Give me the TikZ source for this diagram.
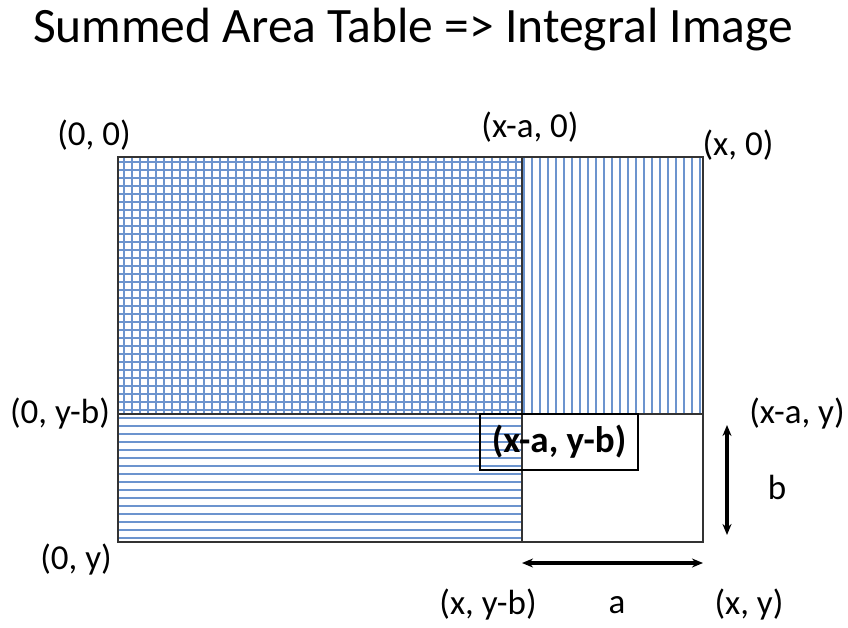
\documentclass[tikz,border=0pt]{standalone}
\usepackage{fontspec}
\setmainfont{Carlito}
\usetikzlibrary{arrows.meta, positioning, calc}
\definecolor{hatchblue}{RGB}{108,148,206}
\tikzset{
    frame/.style={draw=black!80, line width=1.6pt},
    hatch/.style={draw=hatchblue, line width=2pt},
    corner/.style={font=\fontsize{35}{40}\selectfont, inner sep=0pt},
    dim/.style={draw, <->, >={Stealth[length=11pt,width=9pt]}, line width=3.6pt}
}
\begin{document}
\begin{tikzpicture}[x=1pt, y=-1pt]
        \useasboundingbox (0,0) rectangle (848,627);
        % Title
        \node [font=\fontsize{49.5}{56}\selectfont] (title) at (413,30) {Summed Area Table => Integral Image};

        % Corners of the table
        \coordinate (tl) at (118,157);
        \coordinate (br) at (703,542);
        \coordinate (mid) at (522,414);

        % Hatching
        \foreach \x in {124,132,...,700} \draw [hatch] (\x,157) -- (\x,414);
        \foreach \y in {162,170,...,540} \draw [hatch] (118,\y) -- (522,\y);

        % Frame
        \draw [frame] (tl) rectangle (br);
        \draw [frame] (mid -| tl) -- (mid -| br);
        \draw [frame] (mid |- tl) -- (mid |- br);

        % Labels
        \node [corner] (p00) at (94,135) {(0, 0)};
        \node [corner] (pxa0) at (530,127) {(x-a, 0)};
        \node [corner] (px0) at (738,145) {(x, 0)};
        \node [corner] (p0yb) at (60,414) {(0, y-b)};
        \node [corner] (pxay) at (797,414) {(x-a, y)};
        \node [corner, font=\fontsize{37}{40}\selectfont\bfseries, draw, line width=1.6pt, minimum width=158, minimum height=56] (pxayb) at (559,442) {(x-a, y-b)};
        \node [corner] (p0y) at (76,560) {(0, y)};
        \node [corner] (pxyb) at (488,605) {(x, y-b)};
        \node [corner] (pxy) at (749,605) {(x, y)};
        \node [corner] (la) at (617,605) {a};
        \node [corner] (lb) at (777,487) {b};

        % Dimension arrows
        \coordinate (a1) at (522,563);
        \coordinate (a2) at (703,563);
        \coordinate (b1) at (727,425);
        \coordinate (b2) at (727,535);
        \draw [dim] (a1) -- (a2);
        \draw [dim] (b1) -- (b2);
    \end{tikzpicture}
\end{document}
